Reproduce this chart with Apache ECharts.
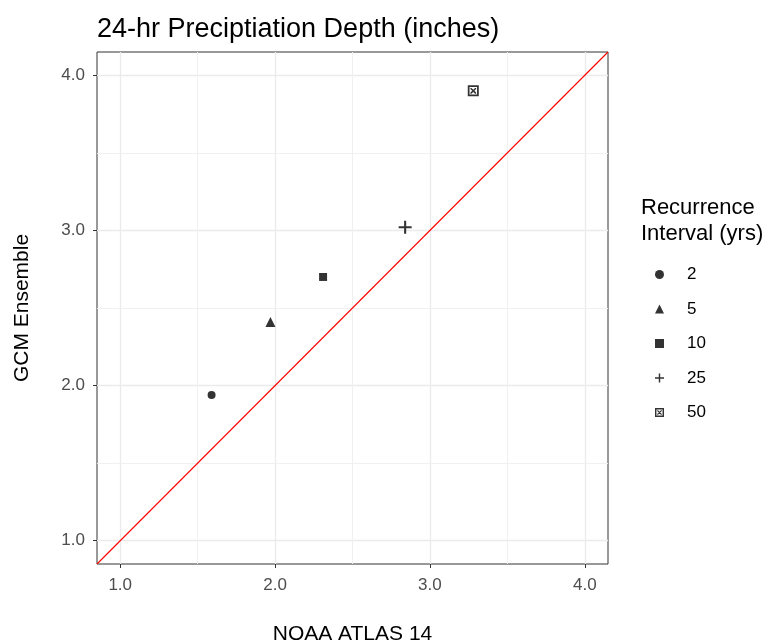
<!DOCTYPE html>
<html>
<head>
<meta charset="utf-8">
<script src="https://cdn.jsdelivr.net/npm/echarts@6/dist/echarts.min.js"></script>
<style>
  html, body { margin: 0; padding: 0; background: #fff; }
  #chart { width: 762px; height: 642px; }
</style>
</head>
<body>
<div id="chart"></div>
<script>
// recurrence intervals (yrs) and the two estimates
var intervals = ["2", "5", "10", "25", "50"];
var noaaAtlas = [1.59, 1.97, 2.31, 2.84, 3.28];
var gcmEnsemble = [1.94, 2.41, 2.70, 3.02, 3.90];
var majorTicks = [1, 2, 3, 4];
var minorTicks = [1.5, 2.5, 3.5];
var axisMin = 0.85;
var axisMax = 4.15;

var FONT = "Liberation Sans, Arial, sans-serif";

// symbols roughly like ggplot shapes 16, 17, 15, 3, 13
var plusPath = "path://M0,4.2 H10 V5.8 H0 Z M4.2,0 H5.8 V10 H4.2 Z";
var boxXPath = "path://M0,0 H10 V10 H0 Z M1.6,1.6 V8.4 H8.4 V1.6 Z" +
  " M2.4,2.4 L3.4,2.4 L7.6,6.6 L7.6,7.6 L6.6,7.6 L2.4,3.4 Z" +
  " M7.6,2.4 L7.6,3.4 L3.4,7.6 L2.4,7.6 L2.4,6.6 L6.6,2.4 Z";
var symbols = ["circle", "triangle", "rect", plusPath, boxXPath];
var sizes = [8, 10, 8, 13, 11];

var gridLines = [];
majorTicks.forEach(function (v) {
  gridLines.push({ xAxis: v, lineStyle: { color: "#EBEBEB", width: 1.3 } });
  gridLines.push({ yAxis: v, lineStyle: { color: "#EBEBEB", width: 1.3 } });
});
minorTicks.forEach(function (v) {
  gridLines.push({ xAxis: v, lineStyle: { color: "#F0F0F0", width: 1 } });
  gridLines.push({ yAxis: v, lineStyle: { color: "#F0F0F0", width: 1 } });
});

var series = [
  {
    // background grid lines
    type: "line",
    data: [],
    silent: true,
    z: 0,
    markLine: {
      silent: true,
      symbol: "none",
      z: 0,
      label: { show: false },
      emphasis: { disabled: true },
      lineStyle: { type: "solid" },
      data: gridLines
    }
  },
  {
    // 1:1 line
    type: "line",
    data: [[axisMin, axisMin], [axisMax, axisMax]],
    showSymbol: false,
    silent: true,
    z: 10,
    lineStyle: { color: "#FF0000", width: 1.1 }
  }
];

intervals.forEach(function (name, i) {
  series.push({
    name: name,
    type: "scatter",
    z: 12,
    symbol: symbols[i],
    symbolSize: sizes[i],
    itemStyle: { color: "#000000" },
    data: [[noaaAtlas[i], gcmEnsemble[i]]]
  });
});

var chart = echarts.init(document.getElementById("chart"));
chart.setOption({
  animation: false,
  backgroundColor: "#fff",
  title: [
    {
      text: "24-hr Preciptiation Depth (inches)",
      left: 92,
      top: 11,
      textStyle: { fontFamily: FONT, fontSize: 27, fontWeight: "normal", color: "#000" }
    },
    {
      text: "Recurrence\nInterval (yrs)",
      left: 636,
      top: 190,
      textStyle: { fontFamily: FONT, fontSize: 22, fontWeight: "normal", color: "#000", lineHeight: 26 }
    }
  ],
  legend: {
    orient: "vertical",
    left: 650,
    top: 261,
    itemWidth: 9,
    itemHeight: 9,
    itemGap: 17.5,
    selectedMode: false,
    data: intervals,
    textStyle: { fontFamily: FONT, fontSize: 17, color: "#000", lineHeight: 17, padding: [0, 0, 0, 18] }
  },
  grid: {
    left: 97,
    right: 154,
    top: 52,
    bottom: 78,
    containLabel: false,
    outerBoundsMode: "none",
    show: true,
    borderColor: "#333333",
    borderWidth: 1,
    backgroundColor: "#fff"
  },
  xAxis: {
    type: "value",
    min: axisMin,
    max: axisMax,
    name: "NOAA ATLAS 14",
    nameLocation: "middle",
    nameGap: 60,
    nameTextStyle: { fontFamily: FONT, fontSize: 21, color: "#000" },
    axisLine: { show: false },
    splitLine: { show: false },
    axisTick: { show: true, customValues: majorTicks, length: 4, lineStyle: { color: "#333" } },
    axisLabel: {
      customValues: majorTicks,
      margin: 13,
      fontFamily: FONT,
      fontSize: 17,
      color: "#4D4D4D",
      formatter: function (v) { return v.toFixed(1); }
    }
  },
  yAxis: {
    type: "value",
    min: axisMin,
    max: axisMax,
    name: "GCM Ensemble",
    nameLocation: "middle",
    nameGap: 64,
    nameTextStyle: { fontFamily: FONT, fontSize: 21, color: "#000" },
    axisLine: { show: false },
    splitLine: { show: false },
    axisTick: { show: true, customValues: majorTicks, length: 4, lineStyle: { color: "#333" } },
    axisLabel: {
      customValues: majorTicks,
      margin: 12,
      fontFamily: FONT,
      fontSize: 17,
      color: "#4D4D4D",
      formatter: function (v) { return v.toFixed(1); }
    }
  },
  series: series
});
</script>
</body>
</html>
